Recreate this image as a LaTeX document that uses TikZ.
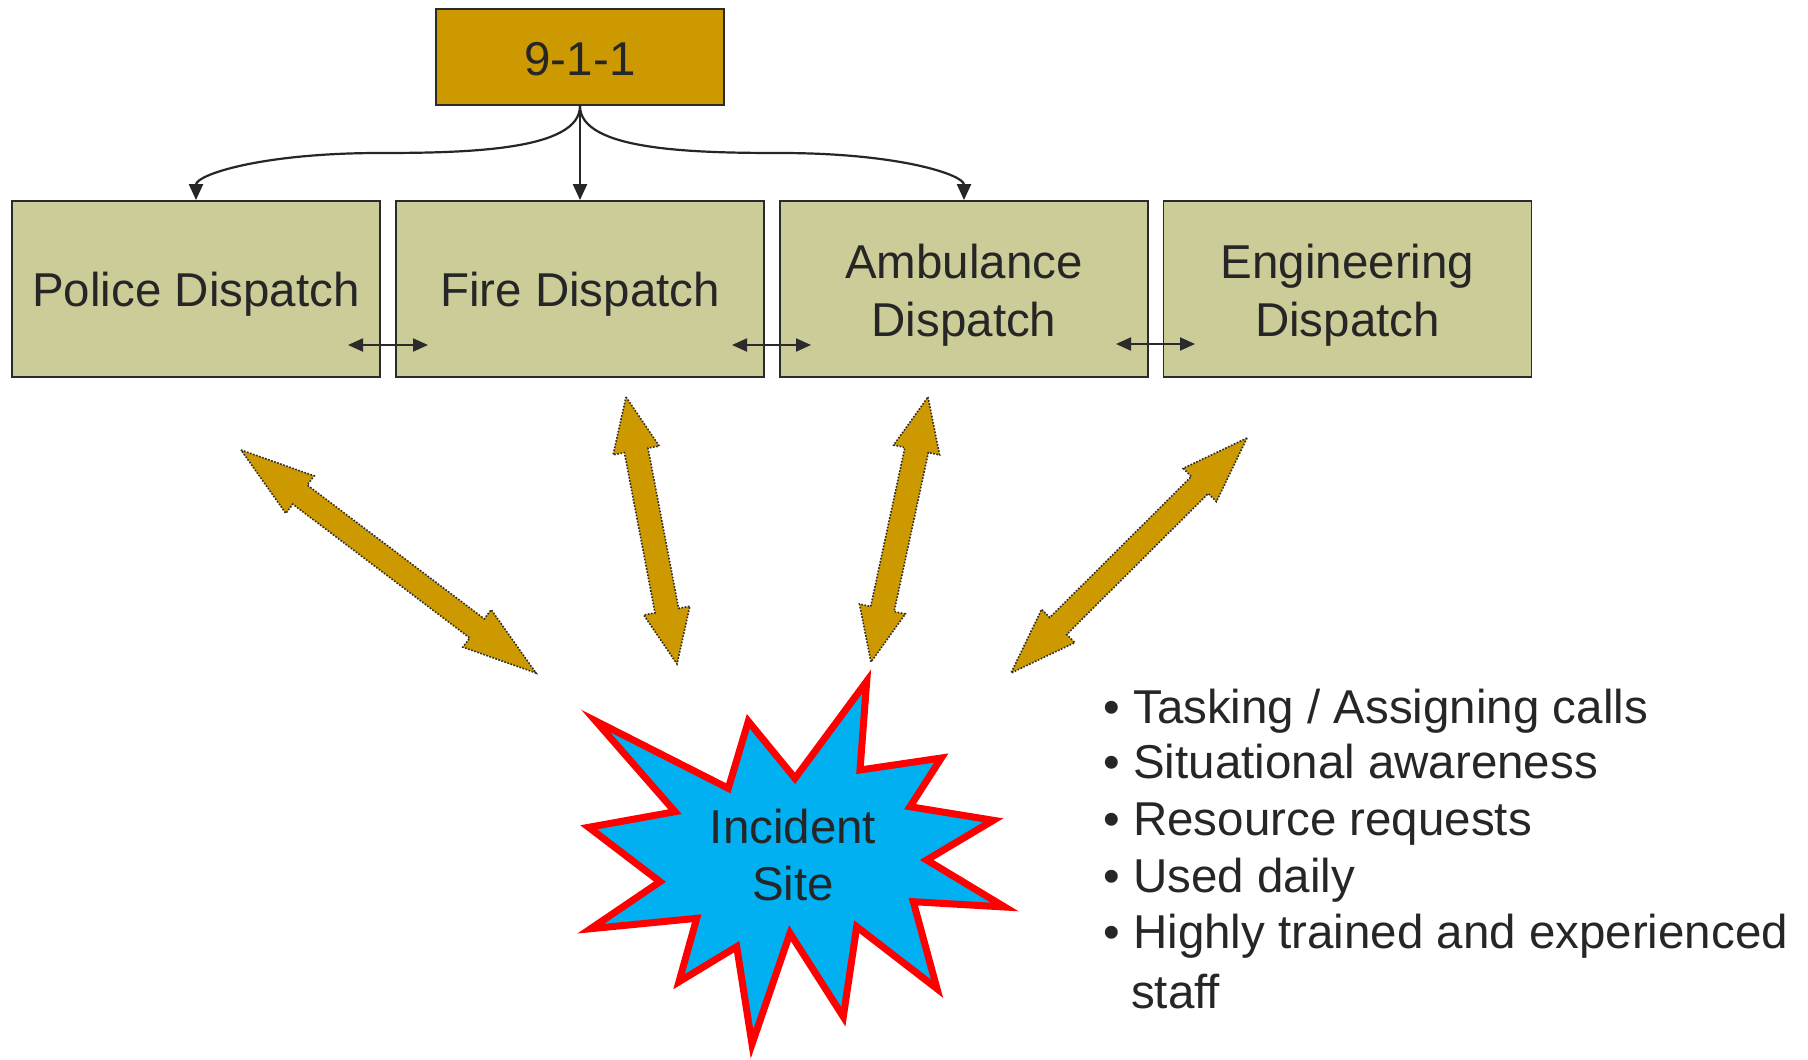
\documentclass[tikz,border=0pt]{standalone}
\usepackage{fontspec}
\setmainfont{Liberation Sans}
\usetikzlibrary{arrows.meta,calc}
\definecolor{txt}{HTML}{262626}
\definecolor{gold}{HTML}{CC9900}
\definecolor{khaki}{HTML}{CCCC99}
\definecolor{sky}{HTML}{00B0F0}
\definecolor{edge}{HTML}{2B2B2B}
\newcommand\goldarrow[2]{%
  \draw[bigarrow] (#1)
    -- ($(#1)!0.2!(#2)!23.5pt!90:(#2)$) -- ($(#1)!0.2!(#2)!12pt!90:(#2)$)
    -- ($(#1)!0.8!(#2)!12pt!90:(#2)$) -- ($(#1)!0.8!(#2)!23.5pt!90:(#2)$)
    -- (#2)
    -- ($(#1)!0.8!(#2)!23.5pt!-90:(#2)$) -- ($(#1)!0.8!(#2)!12pt!-90:(#2)$)
    -- ($(#1)!0.2!(#2)!12pt!-90:(#2)$) -- ($(#1)!0.2!(#2)!23.5pt!-90:(#2)$)
    -- cycle;}
\begin{document}
\begin{tikzpicture}[x=1pt,y=-1pt,
  box/.style={draw=edge, line width=1.8pt, fill=khaki, minimum width=368pt, minimum height=176pt, inner sep=0pt},
  topbox/.style={draw=edge, line width=1.8pt, fill=gold, minimum width=288pt, minimum height=96pt, inner sep=0pt},
  lbl/.style={text=txt, font=\fontsize{47.5}{57.5}\selectfont, inner sep=0pt, anchor=base},
  bul/.style={lbl, anchor=base west},
  flow/.style={draw=txt, line width=2.2pt, -{Triangle[length=16pt,width=14pt]}},
  link/.style={draw=edge, line width=2pt, {Triangle[length=15pt,width=13pt]}-{Triangle[length=15pt,width=13pt]}},
  bigarrow/.style={fill=gold, draw=edge, line width=1.6pt, dash pattern=on 1.6pt off 1.6pt, line join=miter},
  burst/.style={fill=sky, draw=red, line width=7pt, line join=miter, miter limit=10}]
\fill[white] (0,0) rectangle (1808,1060);
\useasboundingbox (0,0) rectangle (1808,1060);

% boxes
\node[topbox] (n911) at (580,57) {};
\node[box] (police) at (196,289) {};
\node[box] (fire) at (580,289) {};
\node[box] (amb) at (964,289) {};
\node[box] (eng) at (1347.5,289) {};

% labels
\node[lbl] (t911) at (580,75) {9-1-1};
\node[lbl] (tpol) at (196,306) {Police Dispatch};
\node[lbl] (tfire) at (580,306) {Fire Dispatch};
\node[lbl] (tamb1) at (964,278) {Ambulance};
\node[lbl] (tamb2) at (964,336) {Dispatch};
\node[lbl] (teng1) at (1347.5,278) {Engineering};
\node[lbl] (teng2) at (1347.5,336) {Dispatch};

% flows from 9-1-1
\draw[flow] (n911.south) .. controls (580,150) and (470,153) .. (380,153)
  .. controls (260,153) and (196,175) .. (police.north);
\draw[flow] (n911.south) -- (fire.north);
\draw[flow] (n911.south) .. controls (580,150) and (690,153) .. (780,153)
  .. controls (900,153) and (964,175) .. (amb.north);

% small links between dispatch boxes
\coordinate (l1a) at (348,345); \coordinate (l1b) at (428,345);
\coordinate (l2a) at (732,345); \coordinate (l2b) at (811,345);
\coordinate (l3a) at (1116,344); \coordinate (l3b) at (1195,344);
\draw[link] (l1a) -- (l1b);
\draw[link] (l2a) -- (l2b);
\draw[link] (l3a) -- (l3b);

% big gold double arrows
\coordinate (pa1) at (241,450); \coordinate (pa2) at (536,673);
\coordinate (fa1) at (626,397); \coordinate (fa2) at (677,664);
\coordinate (aa1) at (928,397); \coordinate (aa2) at (871,662);
\coordinate (ea1) at (1247,438); \coordinate (ea2) at (1011,673);
\goldarrow{pa1}{pa2}
\goldarrow{fa1}{fa2}
\goldarrow{aa1}{aa2}
\goldarrow{ea1}{ea2}

% incident burst
\draw[burst] (866.7,681.3) -- (860,770) -- (941.3,758) -- (910,806.7)
  -- (993.3,820.3) -- (926.7,860) -- (1004.7,907) -- (913.3,901.7)
  -- (937,988.7) -- (856.7,926.7) -- (843.3,1016.7) -- (790,933.3)
  -- (752,1044) -- (736.7,946.7) -- (679,981.7) -- (696.7,918.3)
  -- (590.7,928.7) -- (660,881.7) -- (588.7,827.3) -- (675,811.7)
  -- (595.7,721) -- (728.3,788.3) -- (748.3,721.3) -- (795,778.3) -- cycle;
\node[lbl] (tinc1) at (793,843) {Incident};
\node[lbl] (tinc2) at (793,900) {Site};

% bullet list
\node[bul] (d1) at (1103,723) {•};
\node[bul] (d2) at (1103,778) {•};
\node[bul] (d3) at (1103,835) {•};
\node[bul] (d4) at (1103,892) {•};
\node[bul] (d5) at (1103,948) {•};
\node[bul] (b1) at (1133,723) {Tasking / Assigning calls};
\node[bul] (b2) at (1133,778) {Situational awareness};
\node[bul] (b3) at (1133,835) {Resource requests};
\node[bul] (b4) at (1133,892) {Used daily};
\node[bul] (b5) at (1133,948) {Highly trained and experienced};
\node[bul] (b6) at (1131,1008) {staff};
\end{tikzpicture}
\end{document}
